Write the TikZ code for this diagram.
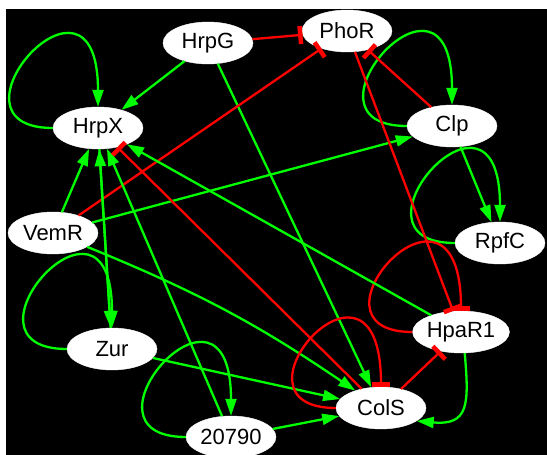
\documentclass[tikz,border=0pt]{standalone}
\usepackage{fontspec}
\setmainfont{Liberation Sans}
\usetikzlibrary{shapes.geometric,arrows.meta}

\begin{document}
\begin{tikzpicture}[x=1pt,y=1pt,
		gene/.style={ellipse,fill=white,draw=white,minimum width=90pt,minimum height=42pt,inner sep=0pt,font=\fontsize{22}{26}\selectfont},
		act/.style={draw=green,line width=2.3pt,-{Triangle[length=17pt,width=11pt]}},
		inh/.style={draw=red,line width=2.3pt,-{Bar[width=18pt,line width=4.5pt]}},
		selfloop/.style={to path={.. controls +(-120,0) and +(0,165) .. (\tikztotarget)}}]
		\fill[white] (0,0) rectangle (547,455);
		\fill[black] (6,0) rectangle (547,446);
		\useasboundingbox (0,0) rectangle (547,455);
		\node[gene] (hrpg) at (208,412) {HrpG};
		\node[gene] (phor) at (347,424) {PhoR};
		\node[gene] (hrpx) at (98,327) {HrpX};
		\node[gene] (clp) at (452,329) {Clp};
		\node[gene] (vemr) at (53,222) {VemR};
		\node[gene] (rpfc) at (500,212) {RpfC};
		\node[gene] (hpar1) at (461,123) {HpaR1};
		\node[gene] (cols) at (381,47) {ColS};
		\node[gene] (zur) at (112,106) {Zur};
		\node[gene] (n20790) at (231,18) {20790};
		\draw[act] (hrpx.west) to[selfloop] (hrpx.north);
		\draw[act] (hrpg) -- (hrpx);
		\draw[act] (hrpg) -- (cols);
		\draw[inh] (hrpg) -- (phor);
		\draw[act] (vemr) -- (hrpx);
		\draw[act] (vemr) -- (clp);
		\draw[act] (vemr) to[bend left=6] (cols);
		\draw[inh] (vemr) -- (phor);
		\draw[act] (zur) -- (hrpx);
		\draw[act] (hrpx) -- (zur);
		\draw[act] (zur.west) to[selfloop] (zur.north);
		\draw[act] (zur) -- (cols);
		\draw[act] (n20790.west) to[selfloop] (n20790.north);
		\draw[act] (n20790) -- (hrpx);
		\draw[act] (n20790) -- (cols);
		\draw[act] (clp.west) to[selfloop] (clp.north);
		\draw[inh] (clp) -- (phor);
		\draw[act] (clp) -- (rpfc);
		\draw[act] (rpfc.west) to[selfloop] (rpfc.north);
		\draw[inh] (phor) -- (hpar1);
		\draw[inh] (hpar1.west) to[selfloop] (hpar1.north);
		\draw[act] (hpar1) -- (hrpx);
		\draw[act] (hpar1.-80) to[out=-85,in=-5,looseness=1.6] (cols.-20);
		\draw[inh] (cols.west) to[selfloop] (cols.north);
		\draw[inh] (cols) -- (hpar1);
		\draw[inh] (cols) -- (hrpx);
	\end{tikzpicture}
\end{document}
